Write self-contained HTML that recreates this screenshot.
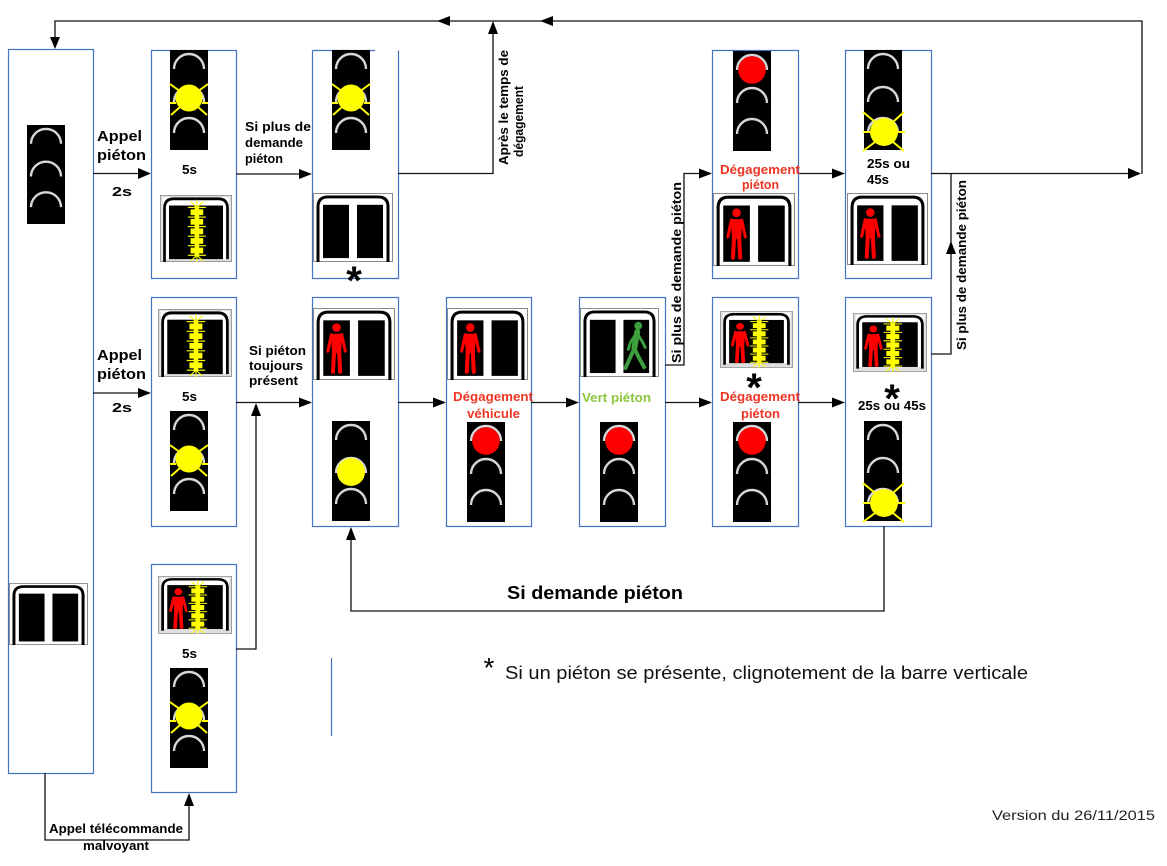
<!DOCTYPE html>
<html><head><meta charset="utf-8"><style>
html,body{margin:0;padding:0;background:#fff;overflow:hidden}
svg{display:block}
text{font-family:"Liberation Sans",Arial,sans-serif}
.b{font-weight:bold}
</style></head><body>
<svg width="1167" height="866" viewBox="0 0 1167 866" xmlns="http://www.w3.org/2000/svg">
<defs>
  <g id="tl">
    <rect width="38" height="100" fill="#000"/>
    <g fill="none" stroke="#d6d6d6" stroke-width="2.4">
      <path d="M4,19 A15,15 0 0 1 34,19"/>
      <path d="M4,52 A15,15 0 0 1 34,52"/>
      <path d="M4,83 A15,15 0 0 1 34,83"/>
    </g>
  </g>
  <g id="tlR"><use href="#tl"/><circle cx="19" cy="19" r="13.8" fill="#ff0000"/></g>
  <g id="tlYS"><use href="#tl"/><circle cx="19" cy="51" r="14" fill="#ffff00"/></g>
  <g id="tlYM"><use href="#tl"/>
    <circle cx="19" cy="48" r="13.5" fill="#ffff00"/>
    <g stroke="#ffff00" stroke-width="2">
      <line x1="0" y1="34" x2="11" y2="42"/><line x1="38" y1="34" x2="27" y2="42"/>
      <line x1="0" y1="53" x2="6" y2="53"/><line x1="32" y1="53" x2="38" y2="53"/>
      <line x1="1" y1="65" x2="10" y2="57"/><line x1="37" y1="65" x2="28" y2="57"/>
    </g>
  </g>
  <g id="tlYB"><use href="#tl"/>
    <circle cx="20" cy="82" r="14" fill="#ffff00"/>
    <g stroke="#ffff00" stroke-width="2">
      <line x1="-1" y1="62" x2="11" y2="72"/><line x1="40" y1="62" x2="29" y2="72"/>
      <line x1="-1" y1="82" x2="6" y2="82"/><line x1="34" y1="82" x2="41" y2="82"/>
      <line x1="-1" y1="101" x2="11" y2="92"/><line x1="40" y1="101" x2="29" y2="92"/>
    </g>
  </g>
  <g id="redman" fill="#ff0000" stroke="#ff0000" stroke-linecap="round">
    <circle cx="23" cy="19" r="4.2" stroke="none"/>
    <path d="M17.5,25 L28.5,25 L27.5,44 L18.5,44 Z" stroke="none"/>
    <path d="M18,26 L14.5,42 M28,26 L31.5,42" stroke-width="3" fill="none"/>
    <path d="M20.5,43 L19.5,62 M25.5,43 L26.5,62" stroke-width="4" fill="none"/>
  </g>
  <g id="ybar">
    <g stroke="#ffff00" stroke-width="1.2">
      <line x1="0" y1="13" x2="0" y2="5"/><line x1="0" y1="13" x2="-7" y2="7"/><line x1="0" y1="13" x2="7" y2="7"/>
      <line x1="0" y1="13" x2="-10" y2="13"/><line x1="0" y1="13" x2="10" y2="13"/>
      <line x1="0" y1="63" x2="0" y2="70"/><line x1="0" y1="63" x2="-7" y2="69"/><line x1="0" y1="63" x2="7" y2="69"/>
      <line x1="0" y1="63" x2="-10" y2="63"/><line x1="0" y1="63" x2="10" y2="63"/>
      <line x1="-10" y1="23" x2="10" y2="23"/><line x1="-10" y1="33" x2="10" y2="33"/>
      <line x1="-10" y1="43" x2="10" y2="43"/><line x1="-10" y1="53" x2="10" y2="53"/>
    </g>
    <rect x="-2.5" y="12" width="5" height="52" fill="#ffff00"/>
    <g fill="#ffff00">
      <rect x="-7" y="15" width="14" height="6"/><rect x="-7" y="25" width="14" height="6"/>
      <rect x="-7" y="35" width="14" height="6"/><rect x="-7" y="45" width="14" height="6"/>
      <rect x="-7" y="55" width="14" height="6"/>
    </g>
  </g>
  <symbol id="pA" viewBox="0 0 80 70" preserveAspectRatio="none">
    <rect x="0.5" y="0.5" width="79" height="69" fill="#fff" stroke="#8a8a8a"/>
    <path d="M5,70 V14 Q5,4 15,4 H65 Q75,4 75,14 V70" fill="none" stroke="#000" stroke-width="3"/>
    <rect x="10" y="12" width="26" height="54" fill="#000"/>
    <rect x="44" y="12" width="26" height="54" fill="#000"/>
  </symbol>
  <symbol id="pB" viewBox="0 0 80 70" preserveAspectRatio="none">
    <rect x="0.5" y="0.5" width="79" height="69" fill="#fff" stroke="#8a8a8a"/>
    <path d="M5,70 V14 Q5,4 15,4 H65 Q75,4 75,14 V70" fill="none" stroke="#000" stroke-width="3"/>
    <rect x="10" y="12" width="26" height="54" fill="#000"/>
    <rect x="44" y="12" width="26" height="54" fill="#000"/>
    <use href="#redman"/>
  </symbol>
  <symbol id="pC" viewBox="0 0 80 70" preserveAspectRatio="none">
    <rect x="0.5" y="0.5" width="79" height="69" fill="#fff" stroke="#8a8a8a"/>
    <path d="M5,70 V14 Q5,4 15,4 H65 Q75,4 75,14 V70" fill="none" stroke="#000" stroke-width="3"/>
    <rect x="10" y="12" width="26" height="54" fill="#000"/>
    <rect x="44" y="12" width="26" height="54" fill="#000"/>
    <g stroke="#3c9e3c" stroke-linecap="round" fill="none">
      <circle cx="59" cy="18" r="4" fill="#3c9e3c" stroke="none"/>
      <path d="M58,24 L55,41" stroke-width="6"/>
      <path d="M57,26 L51,35 L49,42" stroke-width="3"/>
      <path d="M58,26 L63,34 L66,40" stroke-width="3"/>
      <path d="M55,41 L50,52 L46,61" stroke-width="4"/>
      <path d="M55,41 L60,51 L65,60" stroke-width="4"/>
    </g>
  </symbol>
  <symbol id="pD" viewBox="0 0 80 70" preserveAspectRatio="none">
    <rect x="0.5" y="0.5" width="79" height="69" fill="#dedede" stroke="#9a9a9a"/>
    <rect x="3" y="2" width="74" height="65" fill="#fff"/>
    <path d="M5,70 V14 Q5,4 15,4 H65 Q75,4 75,14 V67" fill="none" stroke="#000" stroke-width="3"/>
    <rect x="10" y="11" width="60" height="56" fill="#000"/>
    <use href="#ybar" x="41"/>
  </symbol>
  <symbol id="pE" viewBox="0 0 80 70" preserveAspectRatio="none">
    <rect x="0.5" y="0.5" width="79" height="69" fill="#dedede" stroke="#9a9a9a"/>
    <rect x="3" y="2" width="74" height="62" fill="#fff"/>
    <path d="M5,66 V14 Q5,4 15,4 H65 Q75,4 75,14 V66" fill="none" stroke="#000" stroke-width="3"/>
    <rect x="10" y="11" width="60" height="53" fill="#000"/>
    <use href="#redman" x="-1"/>
    <use href="#ybar" x="43"/>
  </symbol>
</defs>

<!-- boxes -->
<g fill="none" stroke="#4472c4" stroke-width="1.2">
  <rect x="8.5" y="49.5" width="85" height="724"/>
  <rect x="151.5" y="50.5" width="85" height="228"/>
  <path d="M312.5,50.5 H375 M398.5,50.5 V278.5 H312.5 V50.5"/>
  <rect x="712.5" y="50.5" width="86" height="228"/>
  <rect x="845.5" y="50.5" width="86" height="228"/>
  <rect x="151.5" y="297.5" width="85" height="229"/>
  <rect x="312.5" y="297.5" width="86" height="229"/>
  <rect x="446.5" y="297.5" width="85" height="229"/>
  <rect x="579.5" y="297.5" width="86" height="229"/>
  <rect x="712.5" y="297.5" width="86" height="229"/>
  <rect x="845.5" y="297.5" width="86" height="229"/>
  <rect x="151.5" y="564.5" width="85" height="228"/>
  <line x1="331.5" y1="658" x2="331.5" y2="736"/>
</g>

<!-- vehicle lights -->
<use href="#tl" transform="translate(27,125) scale(1,0.99)"/>
<use href="#tlYM" x="170" y="50"/>
<use href="#tlYM" x="332" y="50"/>
<use href="#tlR" x="733" y="51"/>
<use href="#tlYB" x="864" y="50"/>
<use href="#tlYM" x="170" y="411"/>
<use href="#tlYS" x="332" y="421"/>
<use href="#tlR" x="467" y="422"/>
<use href="#tlR" x="600" y="422"/>
<use href="#tlR" x="733" y="422"/>
<use href="#tlYB" x="864" y="421"/>
<use href="#tlYM" x="170" y="668"/>

<!-- pedestrian signals -->
<use href="#pA" x="9" y="583" width="79" height="62"/>
<use href="#pD" x="160" y="195" width="72" height="67"/>
<use href="#pA" x="313" y="193" width="80" height="69"/>
<use href="#pB" x="713" y="193" width="82" height="73"/>
<use href="#pB" x="847" y="193" width="81" height="72"/>
<use href="#pD" x="158" y="309" width="74" height="68"/>
<use href="#pB" x="313" y="308" width="82" height="72"/>
<use href="#pB" x="447" y="308" width="81" height="72"/>
<use href="#pC" x="580" y="308" width="79" height="69"/>
<use href="#pE" x="720" y="311" width="73" height="57"/>
<use href="#pE" x="853" y="313" width="74" height="59"/>
<use href="#pE" x="158" y="576" width="74" height="58"/>

<!-- connectors -->
<g fill="none" stroke="#111" stroke-width="1.3">
  <polyline points="55,46 55,21 1142,21 1142,174"/>
  <line x1="931" y1="173.5" x2="1130" y2="173.5"/>
  <polyline points="398,173.5 493,173.5 493,32"/>
  <line x1="93" y1="173.5" x2="140" y2="173.5"/>
  <line x1="236" y1="174" x2="301" y2="174"/>
  <line x1="93" y1="393" x2="140" y2="393"/>
  <line x1="236" y1="402.5" x2="301" y2="402.5"/>
  <polyline points="236,649 256,649 256,414"/>
  <line x1="398" y1="402.5" x2="435" y2="402.5"/>
  <line x1="531" y1="402.5" x2="568" y2="402.5"/>
  <line x1="665" y1="402.5" x2="701" y2="402.5"/>
  <line x1="798" y1="402.5" x2="834" y2="402.5"/>
  <polyline points="665,365 684,365 684,173.5 701,173.5"/>
  <line x1="798" y1="173.5" x2="834" y2="173.5"/>
  <polyline points="931,354 951,354 951,173.5"/>
  <polyline points="884,526 884,611 351,611 351,538"/>
  <polyline points="45,773 45,840 189,840 189,804"/>
</g>
<g fill="#000">
  <polygon points="50,37 60,37 55,49"/>
  <polygon points="450,16 450,26 437,21"/>
  <polygon points="553,16 553,26 540,21"/>
  <polygon points="1128,168 1128,179 1141,173.5"/>
  <polygon points="488,34 498,34 493,21"/>
  <polygon points="138,168 138,179 151,173.5"/>
  <polygon points="299,169 299,179 312,174"/>
  <polygon points="138,388 138,398 151,393"/>
  <polygon points="299,397.5 299,407.5 312,402.5"/>
  <polygon points="251,416 261,416 256,403"/>
  <polygon points="433,397.5 433,407.5 446,402.5"/>
  <polygon points="566,397.5 566,407.5 579,402.5"/>
  <polygon points="699,397.5 699,407.5 712,402.5"/>
  <polygon points="832,397.5 832,407.5 845,402.5"/>
  <polygon points="699,168.5 699,178.5 712,173.5"/>
  <polygon points="832,168.5 832,178.5 845,173.5"/>
  <polygon points="946,254 956,254 951,241"/>
  <polygon points="346,540 356,540 351,527"/>
  <polygon points="184,806 194,806 189,793"/>
</g>

<!-- labels -->
<g class="b" fill="#000">
  <text x="97" y="141" font-size="15" textLength="45" lengthAdjust="spacingAndGlyphs">Appel</text>
  <text x="97" y="160" font-size="15" textLength="49" lengthAdjust="spacingAndGlyphs">piéton</text>
  <text x="112" y="196" font-size="13" textLength="20" lengthAdjust="spacingAndGlyphs">2s</text>
  <text x="182" y="174" font-size="12.5" textLength="15" lengthAdjust="spacingAndGlyphs">5s</text>
  <text x="245" y="131" font-size="12.5" textLength="66" lengthAdjust="spacingAndGlyphs">Si  plus de</text>
  <text x="245" y="147" font-size="12.5" textLength="58" lengthAdjust="spacingAndGlyphs">demande</text>
  <text x="245" y="163" font-size="12.5" textLength="38" lengthAdjust="spacingAndGlyphs">piéton</text>

  <text x="97" y="360" font-size="15" textLength="45" lengthAdjust="spacingAndGlyphs">Appel</text>
  <text x="97" y="379" font-size="15" textLength="49" lengthAdjust="spacingAndGlyphs">piéton</text>
  <text x="112" y="412" font-size="13" textLength="20" lengthAdjust="spacingAndGlyphs">2s</text>
  <text x="182" y="401" font-size="12.5" textLength="15" lengthAdjust="spacingAndGlyphs">5s</text>
  <text x="249" y="355" font-size="12.5" textLength="57" lengthAdjust="spacingAndGlyphs">Si piéton</text>
  <text x="249" y="370" font-size="12.5" textLength="54" lengthAdjust="spacingAndGlyphs">toujours</text>
  <text x="249" y="385" font-size="12.5" textLength="49" lengthAdjust="spacingAndGlyphs">présent</text>
  <text x="182" y="658" font-size="12.5" textLength="15" lengthAdjust="spacingAndGlyphs">5s</text>

  <text x="867" y="168" font-size="13" textLength="43" lengthAdjust="spacingAndGlyphs">25s ou</text>
  <text x="867" y="184" font-size="13" textLength="22" lengthAdjust="spacingAndGlyphs">45s</text>
  <text x="858" y="410" font-size="13" textLength="68" lengthAdjust="spacingAndGlyphs">25s ou 45s</text>

  <text x="354" y="294" font-size="40" text-anchor="middle">*</text>
  <text x="754" y="401" font-size="40" text-anchor="middle">*</text>
  <text x="892" y="412" font-size="40" text-anchor="middle">*</text>

  <text transform="translate(508,165) rotate(-90)" font-size="12.5" textLength="115" lengthAdjust="spacingAndGlyphs">Après le temps de</text>
  <text transform="translate(523,157) rotate(-90)" font-size="12.5" textLength="71" lengthAdjust="spacingAndGlyphs">dégagement</text>
  <text transform="translate(681,363) rotate(-90)" font-size="13" textLength="181" lengthAdjust="spacingAndGlyphs">Si plus de demande piéton</text>
  <text transform="translate(966,350) rotate(-90)" font-size="13" textLength="170" lengthAdjust="spacingAndGlyphs">Si plus de demande piéton</text>

  <text x="507" y="599" font-size="18" textLength="176" lengthAdjust="spacingAndGlyphs">Si demande piéton</text>
  <text x="49" y="833" font-size="12.5" textLength="134" lengthAdjust="spacingAndGlyphs">Appel télécommande</text>
  <text x="83" y="850" font-size="12.5" textLength="66" lengthAdjust="spacingAndGlyphs">malvoyant</text>
</g>
<g class="b" fill="#ee3524">
  <text x="720" y="174" font-size="13" textLength="80" lengthAdjust="spacingAndGlyphs">Dégagement</text>
  <text x="742" y="189" font-size="13" textLength="37" lengthAdjust="spacingAndGlyphs">piéton</text>
  <text x="453" y="401" font-size="13" textLength="80" lengthAdjust="spacingAndGlyphs">Dégagement</text>
  <text x="467" y="418" font-size="13" textLength="53" lengthAdjust="spacingAndGlyphs">véhicule</text>
  <text x="720" y="401" font-size="13" textLength="80" lengthAdjust="spacingAndGlyphs">Dégagement</text>
  <text x="741" y="418" font-size="13" textLength="39" lengthAdjust="spacingAndGlyphs">piéton</text>
</g>
<text class="b" x="582" y="402" font-size="13" fill="#8cc63e" textLength="69" lengthAdjust="spacingAndGlyphs">Vert piéton</text>

<text x="489" y="677" font-size="28" text-anchor="middle" fill="#000">*</text>
<text x="505" y="679" font-size="18" fill="#111" textLength="523" lengthAdjust="spacingAndGlyphs">Si un piéton se présente, clignotement de la barre verticale</text>
<text x="992" y="820" font-size="14" fill="#222" textLength="163" lengthAdjust="spacingAndGlyphs">Version du 26/11/2015</text>
</svg>
</body></html>
